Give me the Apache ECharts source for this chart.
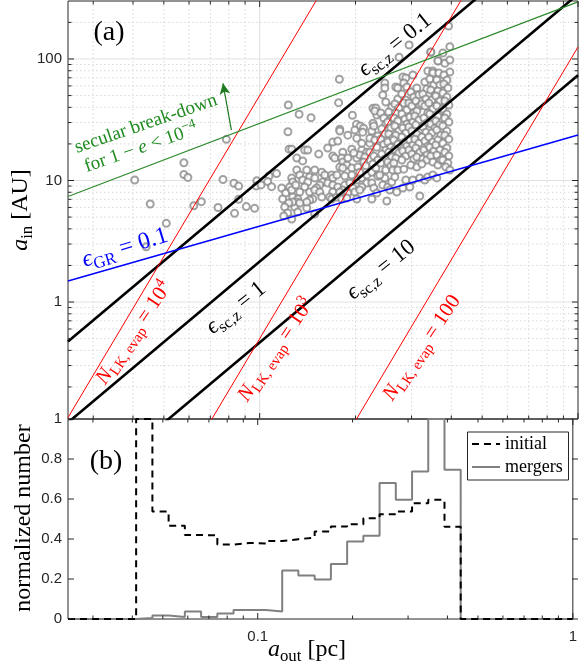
<!DOCTYPE html>
<html><head><meta charset="utf-8">
<script src="https://cdn.jsdelivr.net/npm/echarts@6/dist/echarts.min.js"></script>
<style>html,body{margin:0;padding:0;background:#fff}#c{width:580px;height:668px}</style>
</head><body><div id="c"></div>
<script>
// ---------------- data ----------------
const xMajorTicks = [0.1, 1];
const xMinorTicks = [0.03,0.04,0.05,0.06,0.07,0.08,0.09,0.2,0.3,0.4,0.5,0.6,0.7,0.8,0.9];
const yTopMajorTicks = [1, 10, 100];
const yTopMinorTicks = [0.2,0.3,0.4,0.5,0.6,0.7,0.8,0.9,2,3,4,5,6,7,8,9,20,30,40,50,60,70,80,90,200];
const yBotTicks = [0, 0.2, 0.4, 0.6, 0.8, 1];

// scatter of systems: outer semi-major axis a_out [pc]
const sysAout = [
 0.0405,0.0453,0.0509,0.044,0.0578,0.0578,0.0595,0.0621,0.0656,0.0786,0.0767,0.083,0.0859,0.074,0.0834,0.0859,0.0908,0.0964,0.098,0.0976,0.101,0.107,0.113,0.106,0.109,0.123,0.1227,0.1237,
 0.178,0.177,0.133,0.145,0.1956,0.2015,0.207,0.212,0.1785,0.227,0.227,0.2947,0.3957,0.2742,0.3448,0.3817,0.3636,0.3957,0.392,
 .1785,.1990,.2108,.2250,.1697,.1759,.1824,.1947,.2218,.2093,.2170,.1385,.1416,.1261,.1636,.1533,.1308,.1365,.1697,.1721,
 .1811,.1824,.1878,.1785,.1824,.1947,.2019,.2063,.2139,.2218,.1406,.1489,.1308,.1336,.1567,.1601,.1684,.1697,.1747,.1261,
 .1270,.1243,.1436,.1489,.1365,.1416,.1578,.1636,.1544,.1511,.1697,.1759,.1851,.1919,.2019,.2093,.2170,.2250,.2170,.2250,
 .2093,.1961,.1824,.1697,.1660,.1684,.1747,.1785,.1892,.1990,.2063,.2019,.1385,.1336,.1270,.1317,.1436,.1489,.1544,.1567,
 .1468,.1436,.1308,.1289,.1406,.1811,.1878,.1489,.1270,.1406,.1336,.2019,.2218,
 .1892,.2093,.1975,.1892,.2124,.2034,.1947,.1851,.2155,.2063,.1173,.1207,.1181,.1234,.1199,.1225,.1190,.1261,.1298,.1317,.1261,
 .2333,.2283,.2350,.2300,.2333,.2283,.2350,.2267,.2317,.2350,.2283,.2333,.2317,.2300,
 .2472,.2472,.2436,.2490,.2401,.2454,.2490,.2419,.2472,.2401,.2454,.2490,.2419,.2472,.2401,.2472,.2436,.2384,.2490,
 .2600,.2545,.2600,.2526,.2582,.2545,.2619,.2526,.2582,.2545,.2600,.2526,.2582,.2526,.2600,.2563,.2619,
 .2677,.2716,.2716,.2658,.2736,.2677,.2638,.2716,.2658,.2736,.2677,.2638,.2716,.2658,.2736,.2677,.2638,.2716,.2658,.2696,
 .2817,.2878,.2837,.2899,.2878,.2796,.2837,.2899,.2796,.2858,.2899,.2817,.2878,.2796,.2858,.2899,.2817,.2878,.2796,.2837,.2817,.2878,
 .3028,.2985,.3050,.2942,.3006,.3050,.2963,.3028,.2942,.3006,.3050,.2963,.3028,.2942,.3006,.3050,.2985,.3028,.2963,
 .3117,.3163,.3095,.3185,.3117,.3072,.3163,.3095,.3185,.3117,.3072,.3163,.3095,.3185,.3117,.3117,.3185,.3185,
 .3375,.3303,.3351,.3255,.3327,.3232,.3303,.3375,.3279,.3351,.3255,.3327,.3232,.3303,.3375,.3279,.3351,.3255,.3351,.3232,.3303,.3375,
 .3449,.3500,.3500,.3424,.3525,.3449,.3551,.3474,.3400,.3500,.3424,.3525,.3449,.3551,.3474,.3400,.3500,.3424,.3525,.3449,.3500,.3500,
 .3629,.3655,.3602,.3681,.3629,.3576,.3681,.3602,.3708,.3629,.3576,.3681,.3602,.3708,.3629,.3576,.3681,.3602,.3629,.3602,.3708,
 .3762,.3957,.3790,.3873,.3790,.3901,.3762,.3873,.3817,.3929,.3762,.3873,.3817,.3929,.3762,.3873,.3817,.3929,.3762,.3873,.3817,.3929,.3762,.3901,.3845,.3957,
 .2250,.2508];
// inner semi-major axis a_in [AU], same order
const sysAin = [
 10.1,6.4,4.44,2.85,14.0,11.2,10.6,6.2,6.7,21.8,10.2,9.5,9.0,6.0,5.37,7.0,6.1,5.9,9.96,9.0,9.2,10.9,11.4,9.8,8.9,41.8,25.2,18.1,
 68.1,43.7,35.1,32.9,34.4,29.0,28.1,26.9,26.4,39.3,29.6,130.4,126.3,103.3,113.5,92.2,96.8,98.1,186.9,
 25.5,26.0,25.0,25.5,20.7,21.1,17.1,18.1,20.3,17.8,17.1,17.8,17.8,18.1,18.5,16.5,15.3,14.5,15.9,15.3,
 15.3,14.2,13.4,12.9,12.7,12.7,15.3,16.2,15.6,17.1,12.2,12.2,12.2,11.1,11.7,11.1,11.1,10.5,11.1,10.5,
 9.72,8.84,10.7,10.5,10.1,9.72,9.72,9.54,9.19,8.68,9.19,8.84,9.19,9.54,10.1,10.5,11.1,11.7,9.54,9.54,
 8.84,8.68,8.35,8.04,7.31,7.04,7.31,8.04,7.89,8.04,8.35,7.04,8.84,8.04,7.31,7.04,8.04,8.35,8.04,7.31,
 7.04,6.91,6.65,6.05,5.94,7.04,7.18,5.30,6.65,6.65,6.53,22.3,22.3,
 23.6,20.3,16.8,15.3,14.2,12.9,11.1,10.9,13.2,11.7,8.68,7.89,7.04,6.53,6.05,5.40,5.11,8.35,9.19,5.51,4.82,
 34.6,28.1,23.2,21.5,18.8,15.9,14.75,13.7,12.7,10.9,8.68,7.89,39.5,37.3,
 63.5,57.7,50.6,44.3,35.9,32.7,29.2,26.6,24.1,21.9,19.9,17.8,16.5,15.0,13.9,10.5,9.19,11.1,12.2,
 40.3,36.6,32.7,30.3,27.1,24.1,22.3,20.7,18.8,17.1,15.6,14.2,13.2,8.84,9.72,8.35,12.2,
 58.8,57.7,46.9,42.6,39.5,35.9,32.7,30.9,28.1,25.5,23.6,21.5,19.9,18.1,16.8,15.3,13.9,12.2,10.7,8.04,
 71.1,69.8,63.5,58.8,46.0,51.5,43.5,38.0,35.2,32.0,29.2,27.1,24.6,22.8,20.7,19.2,17.5,15.9,14.75,12.4,8.68,10.1,
 73.9,53.5,48.7,43.5,41.1,35.9,33.3,30.3,27.6,25.5,23.2,21.5,19.6,17.8,16.5,15.0,13.4,10.1,8.84,
 57.7,50.6,45.1,41.1,37.3,33.9,31.5,28.7,26.0,24.1,21.9,20.3,18.5,17.1,15.6,12.9,10.5,7.45,
 79.7,64.7,56.7,51.5,46.9,42.6,41.1,35.9,32.7,29.8,27.6,25.0,22.8,21.1,19.2,17.8,16.2,15.0,14.75,13.7,10.1,10.7,
 114.2,79.7,76.7,68.5,61.1,55.6,50.6,46.0,43.5,38.8,35.2,32.0,29.2,27.1,24.6,22.8,20.7,18.8,17.5,15.9,14.2,11.1,
 96.3,76.7,67.2,61.1,54.6,49.6,45.1,41.1,37.3,33.9,30.9,28.7,26.0,23.6,21.5,19.6,17.8,16.2,13.4,10.5,14.75,
 112.0,78.2,73.9,67.2,62.3,57.7,52.5,48.7,45.1,41.8,38.8,35.2,32.7,30.3,28.1,25.5,23.6,21.9,20.3,18.5,17.1,15.9,14.75,13.9,12.9,12.2,
 7.04,6.78];

// reference lines: end points (a_out, a_in)
const lineAout = [0.025, 1];
const epsSc01Ain = [0.474, 1585];
const epsSc1Ain = [0.102, 341];
const epsSc10Ain = [0.022, 73.6];
const nlk1e4Ain = [0.112, 1.26e6];
const nlk1e3Ain = [0.00112, 12559];
const nlk100Ain = [1.12e-5, 125.6];
const epsGRAin = [1.49, 23.7];
const secularAin = [7.37, 295];
const arrowAout = [0.0815, 0.0767];
const arrowAin = [26.0, 63.1];

// histograms
const histEdges = [0.04113,0.04632,0.05215,0.05872,0.06612,0.07445,0.08382,0.09434,0.1062,0.1196,0.1346,0.1516,0.1707,0.1922,0.2164,0.2436,0.2743,0.3089,0.3477,0.3915,0.4407];
const histInitial = [1.0,0.538,0.466,0.42,0.418,0.372,0.38,0.378,0.39,0.399,0.407,0.437,0.462,0.474,0.504,0.524,0.538,0.579,0.596,0.461];
const histMergers = [0.005,0.017,0.01,0.037,0.01,0.028,0.045,0.045,0.037,0.242,0.217,0.197,0.275,0.387,0.416,0.68,0.596,0.738,1.0,0.746];

// ---------------- build ----------------
const SERIF = "'Liberation Serif','DejaVu Serif',serif";
const SANS = "'Liberation Sans',Arial,sans-serif";
const G0 = {left:68, top:1, width:510, height:418};
const G1 = {left:68, top:419, width:510, height:200};
const xMin = 0.025, xMax = 1, yTopMin = 0.109, yTopMax = 300;

function pairs(xs, ys){ return xs.map((x,i)=>[x, ys[i]]); }
function stepData(edges, vals){
  const d = [[xMin,0],[edges[0],0]];
  vals.forEach((v,i)=>{ d.push([edges[i],v]); d.push([edges[i+1],v]); });
  d.push([edges[edges.length-1],0]); d.push([xMax,0]);
  return d;
}
function isPow10(v){ const l = Math.log10(v); return Math.abs(l-Math.round(l))<1e-6; }
function refLine(name, ys, color, width){
  return {name, type:'line', xAxisIndex:0, yAxisIndex:0, data:pairs(lineAout, ys), showSymbol:false, symbol:'none',
    clip:true, silent:true, lineStyle:{color, width}, z:3};
}

const chart = echarts.init(document.getElementById('c'), null, {renderer:'canvas', width:580, height:668});
const option = {
  animation:false,
  backgroundColor:'#fff',
  grid:[
    Object.assign({show:true, borderColor:'#262626', borderWidth:1, backgroundColor:'transparent', containLabel:false}, G0),
    Object.assign({show:true, borderColor:'#262626', borderWidth:1, backgroundColor:'transparent', containLabel:false}, G1)
  ],
  xAxis:[
    {type:'log', gridIndex:0, min:xMin, max:xMax, logBase:10, axisLine:{show:false}, axisTick:{show:false}, axisLabel:{show:false}, splitLine:{show:false}},
    {type:'log', gridIndex:1, min:xMin, max:xMax, logBase:10, axisLine:{show:false}, axisTick:{show:false}, splitLine:{show:false},
      axisLabel:{show:true, margin:10, fontFamily:SANS, fontSize:15, color:'#262626', hideOverlap:false,
        formatter:v=> isPow10(v) ? String(Math.round(v*10)/10) : ''}}
  ],
  yAxis:[
    {type:'log', gridIndex:0, min:yTopMin, max:yTopMax, logBase:10, axisLine:{show:false}, axisTick:{show:false}, splitLine:{show:false},
      axisLabel:{show:true, margin:6, fontFamily:SANS, fontSize:15, color:'#262626', formatter:v=> isPow10(v) && v>=1 ? String(Math.round(v)) : ''}},
    {type:'value', gridIndex:1, min:0, max:1, interval:0.2, axisLine:{show:false}, axisTick:{show:false}, splitLine:{show:false},
      axisLabel:{show:true, margin:6, fontFamily:SANS, fontSize:15, color:'#262626', formatter:v=> String(Math.round(v*10)/10)}}
  ],
  series:[
    {name:'systems', type:'scatter', xAxisIndex:0, yAxisIndex:0, data:pairs(sysAout, sysAin), symbol:'emptyCircle', symbolSize:7,
      itemStyle:{color:'#8a8a8a', borderColor:'#8a8a8a', borderWidth:1}, silent:true, z:2, large:false},
    refLine('eps_sc 0.1', epsSc01Ain, '#000', 2.6),
    refLine('eps_sc 1', epsSc1Ain, '#000', 2.6),
    refLine('eps_sc 10', epsSc10Ain, '#000', 2.6),
    refLine('NLK 1e4', nlk1e4Ain, '#ff0000', 1),
    refLine('NLK 1e3', nlk1e3Ain, '#ff0000', 1),
    refLine('NLK 100', nlk100Ain, '#ff0000', 1),
    refLine('eps_GR', epsGRAin, '#0000ff', 1.5),
    Object.assign(refLine('secular', secularAin, '#2a8a2a', 1.1), {
      markLine:{silent:true, symbol:['none','arrow'], symbolSize:[8,11], label:{show:false},
        lineStyle:{color:'#1f7a1f', width:1.2, type:'solid'},
        data:[[{coord:[arrowAout[0], arrowAin[0]]},{coord:[arrowAout[1], arrowAin[1]]}]]}}),
    {name:'mergers', type:'line', xAxisIndex:1, yAxisIndex:1, data:stepData(histEdges, histMergers), showSymbol:false, symbol:'none',
      clip:false, silent:true, lineStyle:{color:'#808080', width:2}, z:3},
    {name:'initial', type:'line', xAxisIndex:1, yAxisIndex:1, data:stepData(histEdges, histInitial), showSymbol:false, symbol:'none',
      clip:false, silent:true, lineStyle:{color:'#000', width:2, type:[7,5]}, z:4}
  ]
};
chart.setOption(option);

// ---------- grid lines, ticks, texts ----------
const xp = (v,i)=>chart.convertToPixel({xAxisIndex:i}, v);
const yp = (v,i)=>chart.convertToPixel({yAxisIndex:i}, v);
const els = [];
function seg(x1,y1,x2,y2,stroke,w,dash,z){
  els.push({type:'line', silent:true, z:z, shape:{x1,y1,x2,y2}, style:{stroke, lineWidth:w, lineDash:dash||null}});
}
const t0 = G0.top, b0 = G0.top+G0.height, l0 = G0.left, r0 = G0.left+G0.width;
const t1 = G1.top, b1 = G1.top+G1.height;
xMinorTicks.forEach(v=>{ const x = xp(v,0); seg(x,t0,x,b0,'#cfcfcf',0.8,[1.5,2.5],0); });
xMajorTicks.forEach(v=>{ const x = xp(v,0); if (x<r0-1) seg(x,t0,x,b0,'#dedede',0.9,null,0); });
yTopMinorTicks.forEach(v=>{ const y = yp(v,0); if (y>t0+1 && y<b0-1) seg(l0,y,r0,y,'#cfcfcf',0.8,[1.5,2.5],0); });
yTopMajorTicks.forEach(v=>{ const y = yp(v,0); seg(l0,y,r0,y,'#dedede',0.9,null,0); });
const TK = '#262626';
function xTicks(i, top, bot){
  xMajorTicks.forEach(v=>{ const x=xp(v,i); seg(x,bot,x,bot-6,TK,1,null,10); seg(x,top,x,top+6,TK,1,null,10); });
  xMinorTicks.forEach(v=>{ const x=xp(v,i); seg(x,bot,x,bot-3.5,TK,1,null,10); seg(x,top,x,top+3.5,TK,1,null,10); });
}
xTicks(0, t0, b0); xTicks(1, t1, b1);
yTopMajorTicks.forEach(v=>{ const y=yp(v,0); seg(l0,y,l0+6,y,TK,1,null,10); seg(r0,y,r0-6,y,TK,1,null,10); });
yTopMinorTicks.forEach(v=>{ const y=yp(v,0); if (y>t0+1 && y<b0-1){ seg(l0,y,l0+3.5,y,TK,1,null,10); seg(r0,y,r0-3.5,y,TK,1,null,10);} });
yBotTicks.forEach(v=>{ const y=yp(v,1); seg(l0,y,l0+6,y,TK,1,null,10); seg(r0,y,r0-6,y,TK,1,null,10); });

function rich(F, color){
  return {
    n:{fontSize:F, fontFamily:SERIF, color, lineHeight:F*1.3},
    i:{fontSize:F, fontFamily:SERIF, fontStyle:'italic', color, lineHeight:F*1.3},
    s:{fontSize:F*0.7, fontFamily:SERIF, color, lineHeight:F*0.7, verticalAlign:'bottom'},
    p:{fontSize:F*0.7, fontFamily:SERIF, color, lineHeight:F*0.7, verticalAlign:'top'}
  };
}
function txt(x,y,deg,text,F,color){
  els.push({type:'text', silent:true, z:20, x, y, rotation:deg*Math.PI/180,
    style:{text, rich:rich(F,color), fill:color, fontSize:F, fontFamily:SERIF, align:'center', verticalAlign:'middle'}});
}
txt(109,33,0,'{n|(a)}',28,'#000');
txt(106,462,0,'{n|(b)}',28,'#000');
txt(21,210,90,'{i|a}{s|in}{n| [AU]}',24,'#000');
txt(24,518,90,'{n|normalized number}',24,'#000');
txt(307,650,0,'{i|a}{s|out}{n| [pc]}',24,'#000');
txt(146,124,19,'{n|secular break-down}',19,'#1f8a1f');
txt(141,148,19,'{n|for 1 − }{i|e}{n| < 10}{p|−4}',19,'#1f8a1f');
txt(125,248,17,'{i|ϵ}{s|GR}{n| = 0.1}',24,'#0000ff');
txt(395,45,39,'{i|ϵ}{s|sc,z}{n| = 0.1}',23,'#000');
txt(236,308,39,'{i|ϵ}{s|sc,z}{n| = 1}',23,'#000');
txt(381,270,39,'{i|ϵ}{s|sc,z}{n| = 10}',23,'#000');
txt(134,333,56,'{i|N}{s|LK, evap}{n| = 10}{p|4}',21,'#ff0000');
txt(276,350,56,'{i|N}{s|LK, evap}{n| = 10}{p|3}',21,'#ff0000');
txt(422,348,56,'{i|N}{s|LK, evap}{n| = 100}',21,'#ff0000');
// legend
els.push({type:'rect', silent:true, z:15, shape:{x:467.5, y:432, width:101, height:48}, style:{fill:'#fff', stroke:'#262626', lineWidth:1}});
seg(472,444,500,444,'#000',2,[7,5],16);
seg(472,467,500,467,'#808080',2,null,16);
els.push({type:'text', silent:true, z:16, x:505, y:444, style:{text:'initial', fontSize:18, fontFamily:SERIF, fill:'#000', align:'left', verticalAlign:'middle'}});
els.push({type:'text', silent:true, z:16, x:505, y:467, style:{text:'mergers', fontSize:18, fontFamily:SERIF, fill:'#000', align:'left', verticalAlign:'middle'}});

chart.setOption({graphic:{elements:els}});
</script></body></html>
